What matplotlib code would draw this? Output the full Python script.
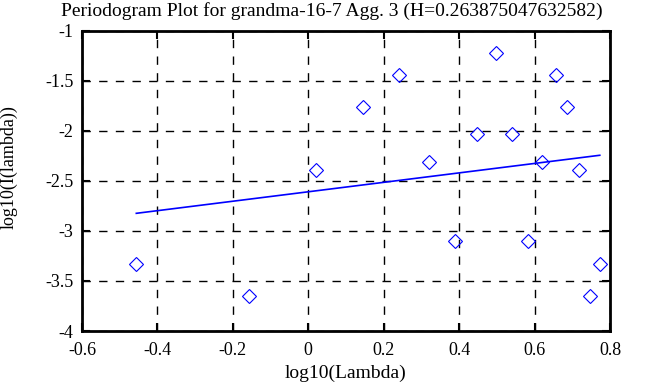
import matplotlib
matplotlib.use('Agg')
import matplotlib.pyplot as plt
import numpy as np

# log10(Lambda) / log10(I(lambda))
log_lambda = [-0.456, -0.156, 0.021, 0.144, 0.241, 0.320, 0.447, 0.497, 0.541,
              0.620, 0.657, 0.687, 0.718, 0.388, 0.582, 0.773, 0.746]
log_power = [-3.33, -3.647, -2.39, -1.757, -1.437, -2.31, -2.027, -1.217, -2.027,
             -2.31, -1.437, -1.757, -2.39, -3.103, -3.103, -3.33, -3.647]

# fitted line: slope = 1 - 2H
hurst = 0.263875047632582
fit_slope = 1 - 2 * hurst
fit_intercept = -2.608

x_ticks = [-0.6, -0.4, -0.2, 0, 0.2, 0.4, 0.6, 0.8]
x_labels = ["-0.6", "-0.4", "-0.2", "0", "0.2", "0.4", "0.6", "0.8"]
y_ticks = [-4, -3.5, -3, -2.5, -2, -1.5, -1]
y_labels = ["-4", "-3.5", "-3", "-2.5", "-2", "-1.5", "-1"]

plt.rcParams['font.family'] = ['Liberation Serif', 'DejaVu Serif']

fig = plt.figure(figsize=(6.63, 3.87), dpi=100)
ax = fig.add_axes([0.1237, 0.1447, 0.7963, 0.7753])

ax.plot(log_lambda, log_power, linestyle='none', marker='D', markersize=7.3,
        markerfacecolor='none', markeredgecolor='#0000ff', markeredgewidth=0.8)

xl = np.array([min(log_lambda), max(log_lambda)])
ax.plot(xl, fit_intercept + fit_slope * xl, color='#0000ff', linewidth=1.2)

ax.set_xlim(-0.6, 0.8)
ax.set_ylim(-4, -1)
ax.set_xticks(x_ticks)
ax.set_xticklabels(x_labels)
ax.set_yticks(y_ticks)
ax.set_yticklabels(y_labels)
ax.tick_params(direction='in', length=6, width=1.5, top=True, right=True,
               labelsize=13, pad=6)
ax.tick_params(axis='x', pad=8)
ax.grid(True, color='black', linestyle=(0, (6, 6)), linewidth=1)
for s in ax.spines.values():
    s.set_linewidth(2)

# title centred on the whole canvas, like gnuplot
fig.text(0.5, 1 - 2.0 / 387, "Periodogram Plot for grandma-16-7 Agg. 3 (H=%s)" % repr(hurst),
         fontsize=14, ha='center', va='top')
ax.set_xlabel("log10(Lambda)", fontsize=14, labelpad=4)
ax.set_ylabel("log10(I(lambda))", fontsize=13)
ax.yaxis.set_label_coords(-0.121, 0.547)

plt.savefig("out.png", dpi=100)
plt.close()
